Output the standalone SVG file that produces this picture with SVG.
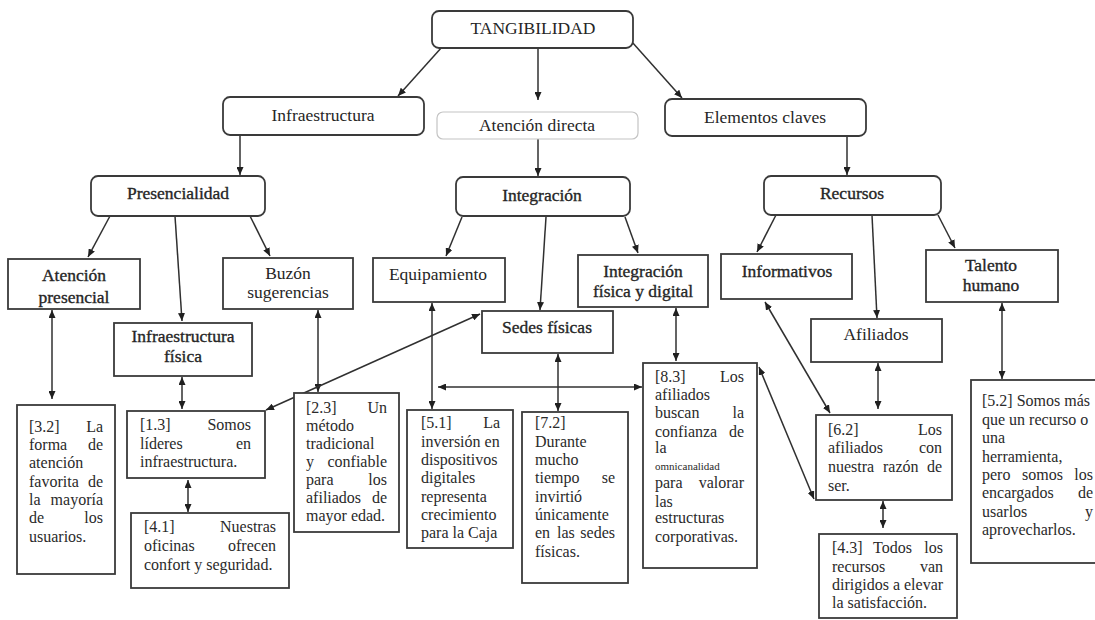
<svg xmlns="http://www.w3.org/2000/svg" width="1095" height="620" viewBox="0 0 1095 620">
  <style>
    .rn { fill: #ffffff; stroke: #3a3a3a; stroke-width: 1.8; }
    .rl { fill: #ffffff; stroke: #c4c4c4; stroke-width: 1.2; }
    .sq { fill: #ffffff; stroke: #3a3a3a; stroke-width: 1.8; }
    .h { font-family: "Liberation Serif", "Times New Roman", serif; font-size: 17.5px; fill: #262626; text-anchor: middle; }
    .dk { stroke: #262626; stroke-width: 0.35; }
    .b { font-family: "Liberation Serif", "Times New Roman", serif; font-size: 16px; fill: #2a2a2a; }
    .e { text-anchor: end; }
    .sm { font-size: 11px; }
    .c { fill: none; stroke: #303030; stroke-width: 1.5; }
  </style>
  <defs>
    <marker id="ah" viewBox="0 0 8 7" refX="8" refY="3.5" markerWidth="8" markerHeight="7" markerUnits="userSpaceOnUse" orient="auto-start-reverse">
      <path d="M0,0 L8,3.5 L0,7 z" fill="#202020"/>
    </marker>
  </defs>
  <rect width="1095" height="620" fill="#ffffff"/>

  <!-- connectors -->
  <g id="connectors">
    <!-- one-way links -->
    <line class="c" x1="442" y1="47" x2="398" y2="96" marker-end="url(#ah)"/>
    <line class="c" x1="538" y1="48" x2="538" y2="100" marker-end="url(#ah)"/>
    <line class="c" x1="632" y1="42" x2="682" y2="98" marker-end="url(#ah)"/>
    <line class="c" x1="240" y1="135" x2="240" y2="175" marker-end="url(#ah)"/>
    <line class="c" x1="538" y1="139" x2="538" y2="176" marker-end="url(#ah)"/>
    <line class="c" x1="847" y1="136" x2="847" y2="175" marker-end="url(#ah)"/>
    <line class="c" x1="110" y1="216" x2="88" y2="257" marker-end="url(#ah)"/>
    <line class="c" x1="175" y1="216" x2="182" y2="321" marker-end="url(#ah)"/>
    <line class="c" x1="250" y1="216" x2="270" y2="256" marker-end="url(#ah)"/>
    <line class="c" x1="462" y1="217" x2="446" y2="256" marker-end="url(#ah)"/>
    <line class="c" x1="546" y1="217" x2="540" y2="310" marker-end="url(#ah)"/>
    <line class="c" x1="625" y1="217" x2="638" y2="253" marker-end="url(#ah)"/>
    <line class="c" x1="776" y1="215" x2="757" y2="252" marker-end="url(#ah)"/>
    <line class="c" x1="872" y1="215" x2="877" y2="318" marker-end="url(#ah)"/>
    <line class="c" x1="938" y1="215" x2="955" y2="248" marker-end="url(#ah)"/>
    <!-- two-way links -->
    <line class="c" x1="52" y1="310" x2="52" y2="399" marker-start="url(#ah)" marker-end="url(#ah)"/>
    <line class="c" x1="182" y1="377" x2="182" y2="409" marker-start="url(#ah)" marker-end="url(#ah)"/>
    <line class="c" x1="318" y1="310" x2="318" y2="392" marker-start="url(#ah)" marker-end="url(#ah)"/>
    <line class="c" x1="188" y1="480" x2="188" y2="512" marker-start="url(#ah)" marker-end="url(#ah)"/>
    <line class="c" x1="480" y1="314" x2="266" y2="410" marker-start="url(#ah)" marker-end="url(#ah)"/>
    <line class="c" x1="432" y1="303" x2="432" y2="409" marker-start="url(#ah)" marker-end="url(#ah)"/>
    <line class="c" x1="558" y1="354" x2="558" y2="411" marker-start="url(#ah)" marker-end="url(#ah)"/>
    <line class="c" x1="676" y1="308" x2="676" y2="361" marker-start="url(#ah)" marker-end="url(#ah)"/>
    <line class="c" x1="438" y1="387" x2="642" y2="387" marker-start="url(#ah)" marker-end="url(#ah)"/>
    <line class="c" x1="759" y1="367" x2="814" y2="499" marker-start="url(#ah)" marker-end="url(#ah)"/>
    <line class="c" x1="765" y1="302" x2="830" y2="413" marker-start="url(#ah)" marker-end="url(#ah)"/>
    <line class="c" x1="878" y1="363" x2="878" y2="409" marker-start="url(#ah)" marker-end="url(#ah)"/>
    <line class="c" x1="883" y1="501" x2="883" y2="528" marker-start="url(#ah)" marker-end="url(#ah)"/>
    <line class="c" x1="1002" y1="303" x2="1002" y2="379" marker-start="url(#ah)" marker-end="url(#ah)"/>
  </g>

  <!-- top level -->
  <g id="tangibilidad">
    <rect class="rn" x="432" y="11" width="201" height="37" rx="7"/>
    <text class="h" x="533" y="34">TANGIBILIDAD</text>
  </g>

  <!-- second level -->
  <g id="infraestructura">
    <rect class="rn" x="223" y="97" width="201" height="38" rx="7"/>
    <text class="h" x="323" y="121">Infraestructura</text>
  </g>
  <g id="atencion-directa">
    <rect class="rl" x="437" y="112" width="201" height="27" rx="6"/>
    <text class="h" x="537" y="131">Atención directa</text>
  </g>
  <g id="elementos-claves">
    <rect class="rn" x="665" y="99" width="201" height="37" rx="7"/>
    <text class="h" x="765" y="123">Elementos claves</text>
  </g>

  <!-- third level -->
  <g id="presencialidad">
    <rect class="rn" x="91" y="176" width="174" height="40" rx="7"/>
    <text class="h dk" x="178" y="199">Presencialidad</text>
  </g>
  <g id="integracion">
    <rect class="rn" x="456" y="177" width="174" height="39" rx="7"/>
    <text class="h dk" x="542" y="201">Integración</text>
  </g>
  <g id="recursos">
    <rect class="rn" x="764" y="176" width="177" height="39" rx="7"/>
    <text class="h dk" x="852" y="199">Recursos</text>
  </g>

  <!-- fourth level -->
  <g id="atencion-presencial">
    <rect class="sq" x="8" y="259" width="132" height="50"/>
    <text class="h dk" x="74" y="281">Atención</text>
    <text class="h dk" x="74" y="303">presencial</text>
  </g>
  <g id="infraestructura-fisica">
    <rect class="sq" x="114" y="323" width="138" height="53"/>
    <text class="h dk" x="183" y="342">Infraestructura</text>
    <text class="h dk" x="183" y="362">física</text>
  </g>
  <g id="buzon">
    <rect class="sq" x="223" y="258" width="130" height="51"/>
    <text class="h" x="288" y="279">Buzón</text>
    <text class="h" x="288" y="298">sugerencias</text>
  </g>
  <g id="equipamiento">
    <rect class="sq" x="373" y="258" width="132" height="44"/>
    <text class="h" x="438" y="280">Equipamiento</text>
  </g>
  <g id="sedes-fisicas">
    <rect class="sq" x="482" y="311" width="131" height="42"/>
    <text class="h dk" x="547" y="333">Sedes físicas</text>
  </g>
  <g id="integracion-fisica-digital">
    <rect class="sq" x="578" y="255" width="130" height="52"/>
    <text class="h dk" x="643" y="277">Integración</text>
    <text class="h dk" x="643" y="297">física y digital</text>
  </g>
  <g id="informativos">
    <rect class="sq" x="721" y="254" width="131" height="45"/>
    <text class="h dk" x="787" y="277">Informativos</text>
  </g>
  <g id="afiliados">
    <rect class="sq" x="811" y="319" width="131" height="43"/>
    <text class="h" x="876" y="340">Afiliados</text>
  </g>
  <g id="talento-humano">
    <rect class="sq" x="926" y="250" width="132" height="52"/>
    <text class="h dk" x="991" y="271">Talento</text>
    <text class="h dk" x="991" y="291">humano</text>
  </g>

  <!-- quotation boxes -->
  <g id="q-3-2">
    <rect class="sq" x="17" y="405" width="98" height="169"/>
    <text class="b" x="29" y="432">[3.2]</text><text class="b e" x="103" y="432">La</text>
    <text class="b" x="29" y="450">forma</text><text class="b e" x="103" y="450">de</text>
    <text class="b" x="29" y="468">atención</text>
    <text class="b" x="29" y="487">favorita</text><text class="b e" x="103" y="487">de</text>
    <text class="b" x="29" y="505">la</text><text class="b e" x="103" y="505">mayoría</text>
    <text class="b" x="29" y="523">de</text><text class="b e" x="103" y="523">los</text>
    <text class="b" x="29" y="542">usuarios.</text>
  </g>
  <g id="q-1-3">
    <rect class="sq" x="127" y="411" width="138" height="67"/>
    <text class="b" x="140" y="430">[1.3]</text><text class="b e" x="251" y="430">Somos</text>
    <text class="b" x="140" y="449">líderes</text><text class="b e" x="251" y="449">en</text>
    <text class="b" x="140" y="467">infraestructura.</text>
  </g>
  <g id="q-4-1">
    <rect class="sq" x="131" y="513" width="158" height="75"/>
    <text class="b" x="144" y="532">[4.1]</text><text class="b e" x="276" y="532">Nuestras</text>
    <text class="b" x="144" y="551">oficinas</text><text class="b e" x="276" y="551">ofrecen</text>
    <text class="b" x="144" y="570">confort y seguridad.</text>
  </g>
  <g id="q-2-3">
    <rect class="sq" x="294" y="393" width="105" height="139"/>
    <text class="b" x="306" y="413">[2.3]</text><text class="b e" x="387" y="413">Un</text>
    <text class="b" x="306" y="431">método</text>
    <text class="b" x="306" y="449">tradicional</text>
    <text class="b" x="306" y="467">y</text><text class="b e" x="387" y="467">confiable</text>
    <text class="b" x="306" y="485">para</text><text class="b e" x="387" y="485">los</text>
    <text class="b" x="306" y="503">afiliados</text><text class="b e" x="387" y="503">de</text>
    <text class="b" x="306" y="521">mayor edad.</text>
  </g>
  <g id="q-5-1">
    <rect class="sq" x="407" y="410" width="106" height="138"/>
    <text class="b" x="421" y="428">[5.1]</text><text class="b e" x="500" y="428">La</text>
    <text class="b" x="421" y="447">inversión en</text>
    <text class="b" x="421" y="465">dispositivos</text>
    <text class="b" x="421" y="483">digitales</text>
    <text class="b" x="421" y="502">representa</text>
    <text class="b" x="421" y="520">crecimiento</text>
    <text class="b" x="421" y="538">para la Caja</text>
  </g>
  <g id="q-7-2">
    <rect class="sq" x="522" y="412" width="106" height="171"/>
    <text class="b" x="535" y="428">[7.2]</text>
    <text class="b" x="535" y="447">Durante</text>
    <text class="b" x="535" y="465">mucho</text>
    <text class="b" x="535" y="483">tiempo</text><text class="b e" x="615" y="483">se</text>
    <text class="b" x="535" y="502">invirtió</text>
    <text class="b" x="535" y="520">únicamente</text>
    <text class="b" x="535" y="538">en</text><text class="b" x="557" y="538">las</text><text class="b e" x="615" y="538">sedes</text>
    <text class="b" x="535" y="557">físicas.</text>
  </g>
  <g id="q-8-3">
    <rect class="sq" x="643" y="363" width="114" height="205"/>
    <text class="b" x="655" y="382">[8.3]</text><text class="b e" x="744" y="382">Los</text>
    <text class="b" x="655" y="400">afiliados</text>
    <text class="b" x="655" y="418">buscan</text><text class="b e" x="744" y="418">la</text>
    <text class="b" x="655" y="437">confianza</text><text class="b e" x="744" y="437">de</text>
    <text class="b" x="655" y="453">la</text>
    <text class="b sm" x="655" y="470">omnicanalidad</text>
    <text class="b" x="655" y="488">para</text><text class="b e" x="744" y="488">valorar</text>
    <text class="b" x="655" y="507">las</text>
    <text class="b" x="655" y="523">estructuras</text>
    <text class="b" x="655" y="542">corporativas.</text>
  </g>
  <g id="q-6-2">
    <rect class="sq" x="816" y="415" width="136" height="85"/>
    <text class="b" x="828" y="435">[6.2]</text><text class="b e" x="942" y="435">Los</text>
    <text class="b" x="828" y="453">afiliados</text><text class="b e" x="942" y="453">con</text>
    <text class="b" x="828" y="472">nuestra</text><text class="b" x="883" y="472">razón</text><text class="b e" x="942" y="472">de</text>
    <text class="b" x="828" y="491">ser.</text>
  </g>
  <g id="q-4-3">
    <rect class="sq" x="819" y="534" width="138" height="84"/>
    <text class="b" x="832" y="553">[4.3]</text><text class="b" x="873" y="553">Todos</text><text class="b e" x="943" y="553">los</text>
    <text class="b" x="832" y="572">recursos</text><text class="b e" x="943" y="572">van</text>
    <text class="b" x="832" y="590">dirigidos a elevar</text>
    <text class="b" x="832" y="608">la satisfacción.</text>
  </g>
  <g id="q-5-2">
    <rect class="sq" x="971" y="380" width="140" height="183"/>
    <text class="b" x="982" y="406">[5.2] Somos más</text>
    <text class="b" x="982" y="425">que un recurso o</text>
    <text class="b" x="982" y="443">una</text>
    <text class="b" x="982" y="462">herramienta,</text>
    <text class="b" x="982" y="480">pero</text><text class="b" x="1022" y="480">somos</text><text class="b e" x="1093" y="480">los</text>
    <text class="b" x="982" y="498">encargados</text><text class="b e" x="1093" y="498">de</text>
    <text class="b" x="982" y="517">usarlos</text><text class="b e" x="1093" y="517">y</text>
    <text class="b" x="982" y="535">aprovecharlos.</text>
  </g>
</svg>
